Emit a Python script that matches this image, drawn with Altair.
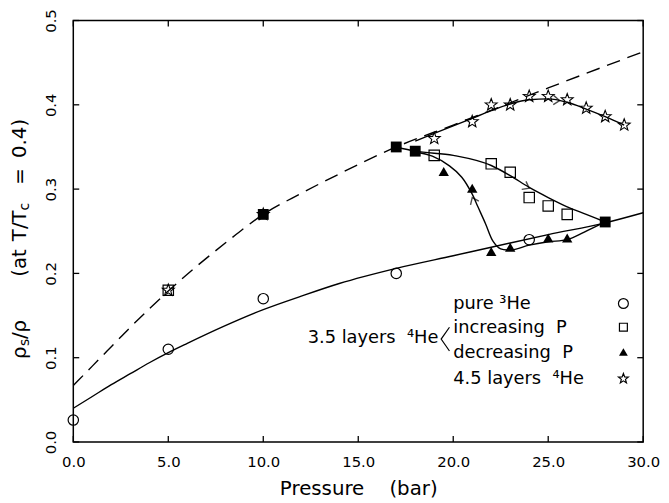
import math
import altair as alt
import pandas as pd

FONT = "DejaVu Sans"
W, H = 576, 426
NB = "\u00a0"

# ---------------- data ----------------
x_ticks = [0, 5, 10, 15, 20, 25, 30]
y_ticks = [0.0, 0.1, 0.2, 0.3, 0.4, 0.5]

# pure 3He (open circles)
pure3_p = [0, 5, 10, 17, 24]
pure3_v = [0.026, 0.11, 0.17, 0.20, 0.24]

# 3.5 layers 4He, increasing P (open squares)
inc_p = [5, 19, 22, 23, 24, 25, 26]
inc_v = [0.18, 0.34, 0.33, 0.32, 0.29, 0.28, 0.27]

# points where increasing and decreasing coincide (filled squares)
both_p = [10, 17, 18, 28]
both_v = [0.27, 0.35, 0.345, 0.261]

# 3.5 layers 4He, decreasing P (filled triangles)
dec_p = [19.5, 21, 22, 23, 25, 26]
dec_v = [0.321, 0.301, 0.226, 0.231, 0.242, 0.242]

# 4.5 layers 4He (open stars)
l45_p = [5, 10, 19, 21, 22, 23, 24, 25, 26, 27, 28, 29]
l45_v = [0.18, 0.27, 0.36, 0.38, 0.40, 0.40, 0.41, 0.41, 0.406, 0.396, 0.386, 0.376]

# curves
dash_p = [0, 1, 2, 3, 4, 5, 6, 8, 10, 12, 14, 17, 20, 25, 30]
dash_v = [0.067, 0.090, 0.113, 0.136, 0.158, 0.179, 0.199, 0.236, 0.270, 0.295, 0.318, 0.350, 0.376, 0.420, 0.463]

solid_p = [0, 1, 2, 3, 4, 5, 6, 8, 10, 12, 14, 17, 20, 22, 25, 28, 30]
solid_v = [0.040, 0.054, 0.068, 0.081, 0.094, 0.106, 0.117, 0.138, 0.157, 0.173, 0.188, 0.206, 0.221, 0.231, 0.246, 0.260, 0.272]

star_curve_p = [18, 19, 20, 21, 22, 23, 24, 25, 26, 27, 28, 29]
star_curve_v = [0.357, 0.366, 0.375, 0.384, 0.393, 0.401, 0.406, 0.407, 0.403, 0.395, 0.386, 0.376]

inc_curve_p = [17, 18, 20, 22, 23, 24, 25, 26, 27, 28]
inc_curve_v = [0.350, 0.345, 0.340, 0.328, 0.316, 0.302, 0.290, 0.279, 0.270, 0.261]

dec_curve_p = [28, 26.9, 26.0, 25.0, 24.0, 23.1, 22.5, 22.1, 21.7, 21.3, 21.0, 20.45, 19.8, 18.9, 18.0]
dec_curve_v = [0.261, 0.249, 0.240, 0.2375, 0.2335, 0.228, 0.229, 0.238, 0.259, 0.279, 0.294, 0.314, 0.3275, 0.339, 0.344]

# arrow heads on the curves
arrow_p = [24.0, 21.0, 25.6]
arrow_v = [0.301, 0.290, 0.405]
arrow_angle = [28, 246, 4]

legend_labels = ["pure" + NB + "\u00b3He", "increasing" + NB * 2 + "P",
                 "decreasing" + NB * 2 + "P", "4.5" + NB + "layers" + NB * 2 + "\u2074He"]
group_label = "3.5" + NB + "layers" + NB * 2 + "\u2074He"
x_title = "Pressure" + NB * 4 + "(bar)"

# ---------------- shapes / styles ----------------
star_pts = []
for k in range(10):
    a = math.radians(-90 + 36 * k)
    r = 1.0 if k % 2 == 0 else 0.42
    star_pts.append(f"{r * math.cos(a):.3f},{r * math.sin(a):.3f}")
STAR = "M" + " L".join(star_pts) + " Z"
CHEVRON = "M -1,-0.75 L 0,0 L -1,0.75"
BRACKET = "M 0.35,-1 L -0.35,0 L 0.35,1"

xs = alt.Scale(domain=[0, 30], nice=False, zero=False)
ys = alt.Scale(domain=[0, 0.5], nice=False, zero=False)

x_axis = alt.Axis(values=x_ticks, format=".1f", ticks=False, tickSize=0, domain=False, grid=False,
                  labelFont=FONT, labelFontSize=15, labelColor="black", labelPadding=13,
                  labelFlush=False, title=x_title, titleFont=FONT, titleFontSize=20,
                  titleFontWeight="normal", titleColor="black", titlePadding=9)
y_axis = alt.Axis(values=y_ticks, format=".1f", ticks=False, tickSize=0, domain=False, grid=False,
                  labelFont=FONT, labelFontSize=15, labelColor="black", labelAngle=270,
                  labelAlign="center", labelBaseline="bottom", labelPadding=15,
                  labelFlush=False, title=None)

X = alt.X("p:Q", scale=xs, axis=x_axis)
Y = alt.Y("v:Q", scale=ys, axis=y_axis)


def df(p, v):
    return pd.DataFrame({"p": p, "v": v})


layers = []

# curves
layers.append(alt.Chart(df(dash_p, dash_v)).mark_line(
    color="black", strokeWidth=1.4, strokeDash=[14, 8], interpolate="monotone").encode(x=X, y=Y))
layers.append(alt.Chart(df(solid_p, solid_v)).mark_line(
    color="black", strokeWidth=1.4, interpolate="monotone").encode(x=X, y=Y))
layers.append(alt.Chart(df(star_curve_p, star_curve_v)).mark_line(
    color="black", strokeWidth=1.4, interpolate="monotone").encode(x=X, y=Y))
layers.append(alt.Chart(df(inc_curve_p, inc_curve_v)).mark_line(
    color="black", strokeWidth=1.4, interpolate="monotone").encode(x=X, y=Y))
dec_df = df(dec_curve_p, dec_curve_v)
dec_df["o"] = range(len(dec_df))
layers.append(alt.Chart(dec_df).mark_line(
    color="black", strokeWidth=1.4, interpolate="catmull-rom").encode(x=X, y=Y, order="o:Q"))

# arrow heads
arr_df = df(arrow_p, arrow_v)
arr_df["a"] = arrow_angle
layers.append(alt.Chart(arr_df).mark_point(
    shape=CHEVRON, size=150, filled=False, color="black", strokeWidth=1.4).encode(
    x=X, y=Y, angle=alt.Angle("a:Q", scale=None)))

# markers
layers.append(alt.Chart(df(pure3_p, pure3_v)).mark_point(
    shape="circle", size=110, filled=False, color="black", strokeWidth=1.2, opacity=1).encode(x=X, y=Y))
layers.append(alt.Chart(df(inc_p, inc_v)).mark_point(
    shape="square", size=110, filled=False, color="black", strokeWidth=1.2, opacity=1).encode(x=X, y=Y))
layers.append(alt.Chart(df(both_p, both_v)).mark_point(
    shape="square", size=120, filled=True, color="black", opacity=1).encode(x=X, y=Y))
layers.append(alt.Chart(df(dec_p, dec_v)).mark_point(
    shape="triangle-up", size=110, filled=True, color="black", opacity=1).encode(x=X, y=Y))
layers.append(alt.Chart(df(l45_p, l45_v)).mark_point(
    shape=STAR, size=160, filled=False, color="black", strokeWidth=1.1, opacity=1).encode(x=X, y=Y))

# inward ticks on all four sides
xt = pd.DataFrame({"p": x_ticks})
yt = pd.DataFrame({"v": y_ticks})
layers.append(alt.Chart(xt).mark_rule(color="black", strokeWidth=1.3).encode(
    x=X, y=alt.value(H), y2=alt.value(H - 6)))
layers.append(alt.Chart(xt).mark_rule(color="black", strokeWidth=1.3).encode(
    x=X, y=alt.value(0), y2=alt.value(6)))
layers.append(alt.Chart(yt).mark_rule(color="black", strokeWidth=1.3).encode(
    y=Y, x=alt.value(0), x2=alt.value(6)))
layers.append(alt.Chart(yt).mark_rule(color="black", strokeWidth=1.3).encode(
    y=Y, x=alt.value(W), x2=alt.value(W - 6)))

# y-axis title built from pieces (with subscripts)
title_pieces = [
    ("\u03c1", -54, 342, 20),
    ("s", -49, 329, 14),
    ("/\u03c1", -54, 322, 20),
    ("(at", -54, 259, 20),
    ("T/T", -54, 223, 20),
    ("c", -49, 192, 14),
    ("=", -54, 166, 20),
    ("0.4)", -54, 139, 20),
]
for txt, px, py, fs in title_pieces:
    layers.append(alt.Chart(pd.DataFrame({"t": [txt]})).mark_text(
        font=FONT, fontSize=fs, color="black", angle=270, align="left", baseline="middle").encode(
        text="t:N", x=alt.value(px), y=alt.value(py)))

# legend inside plot
legend_y = [287, 311, 336, 362]
for lab, ly in zip(legend_labels, legend_y):
    layers.append(alt.Chart(pd.DataFrame({"t": [lab]})).mark_text(
        font=FONT, fontSize=18, color="black", align="left", baseline="middle").encode(
        text="t:N", x=alt.value(384), y=alt.value(ly)))
layers.append(alt.Chart(pd.DataFrame({"t": [group_label]})).mark_text(
    font=FONT, fontSize=18, color="black", align="right", baseline="middle").encode(
    text="t:N", x=alt.value(369), y=alt.value(321)))
layers.append(alt.Chart(pd.DataFrame({"t": [group_label]})).mark_point(
    shape=BRACKET, size=576, filled=False, color="black", strokeWidth=1.2, opacity=1).encode(
    x=alt.value(376), y=alt.value(322)))

sym_specs = [
    ("circle", False, 100, 286),
    ("square", False, 64, 310),
    ("triangle-up", True, 80, 335),
    (STAR, False, 110, 362),
]
for lab, (shp, fill, sz, sy) in zip(legend_labels, sym_specs):
    layers.append(alt.Chart(pd.DataFrame({"t": [lab]})).mark_point(
        shape=shp, size=sz, filled=fill, color="black", strokeWidth=1.2, opacity=1).encode(
        x=alt.value(556), y=alt.value(sy)))

chart = alt.layer(*layers).properties(
    width=W, height=H,
    autosize=alt.AutoSizeParams(type="none"),
    padding={"left": 66, "top": 10, "right": 18, "bottom": 58},
    background="white",
).configure(font=FONT).configure_view(stroke="black", strokeWidth=1.5)

chart.save("out.html", embed_options={"renderer": "svg", "actions": False})
